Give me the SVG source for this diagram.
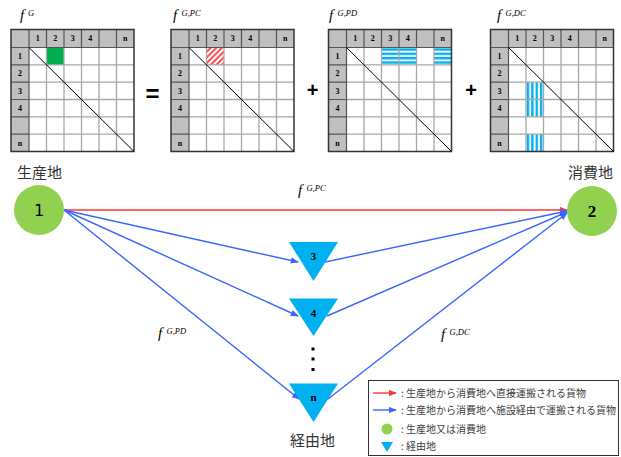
<svg xmlns="http://www.w3.org/2000/svg" xmlns:xlink="http://www.w3.org/1999/xlink" width="621" height="457" viewBox="0 0 621 457">
<style>
.hdr{font-family:"Liberation Serif",serif;font-weight:bold;font-size:8px;text-anchor:middle;fill:#000}
.f{font-family:"Liberation Serif",serif;font-style:italic;font-size:15px}
.sup{font-family:"Liberation Serif",serif;font-style:italic;font-size:8.5px}
.jp{font-family:"Noto Sans CJK JP",sans-serif;font-size:15px;fill:#333}
.lg{font-family:"Noto Sans CJK JP",sans-serif;font-size:10px;fill:#404040}
.tri{fill:#00b0f0}
.node{fill:#92d050}
.tl{font-family:"Liberation Serif",serif;font-weight:bold;font-size:11px;text-anchor:middle}
.red{stroke:#ff3333;stroke-width:1.4;fill:none}
.blue{stroke:#3a66ff;stroke-width:1.4;fill:none}
.op{font-family:"Liberation Sans",sans-serif;font-weight:bold;text-anchor:middle}
</style>
<defs>
<marker id="ar" viewBox="0 0 10 8" refX="9" refY="4" markerWidth="8" markerHeight="6.4" markerUnits="userSpaceOnUse" orient="auto"><path d="M0,0 L10,4 L0,8 z" fill="#ff3333"/></marker>
<marker id="ab" viewBox="0 0 10 8" refX="9" refY="4" markerWidth="8" markerHeight="6.4" markerUnits="userSpaceOnUse" orient="auto"><path d="M0,0 L10,4 L0,8 z" fill="#3a66ff"/></marker>
<pattern id="hatchR" patternUnits="userSpaceOnUse" width="4" height="4" patternTransform="rotate(45)"><rect width="4" height="4" fill="#fff"/><rect width="2" height="4" fill="#ff4d4d"/></pattern>
<pattern id="hatchH" patternUnits="userSpaceOnUse" x="0" y="18" width="4" height="4.333"><rect width="4" height="4.333" fill="#fff"/><rect y="0.8" width="4" height="2.4" fill="#00b0f0"/></pattern>
<pattern id="hatchV" patternUnits="userSpaceOnUse" x="35.5" y="0" width="4.375" height="4"><rect width="4.375" height="4" fill="#fff"/><rect x="0.8" width="2.4" height="4" fill="#00b0f0"/></pattern>
<g id="mtxBg">
<rect x="0" y="0" width="123" height="122" fill="#c0c0c0"/>
<rect x="18" y="18" width="105" height="104" fill="#fff"/>
</g>
<g id="mtxGrid">
<path d="M35.5,18V122M53,18V122M70.5,18V122M88,18V122M105.5,18V122M18,35.33H123M18,52.67H123M18,70H123M18,87.33H123M18,104.67H123" stroke="#a8a8a8" stroke-width="1.3" fill="none"/>
<path d="M35.5,0V18M53,0V18M70.5,0V18M88,0V18M105.5,0V18M0,35.33H18M0,52.67H18M0,70H18M0,87.33H18M0,104.67H18M18,0V122M0,18H123" stroke="#555" stroke-width="1.2" fill="none"/>
<rect x="0" y="0" width="123" height="122" fill="none" stroke="#333" stroke-width="1.5"/>
<line x1="18" y1="18" x2="123" y2="122" stroke="#000" stroke-width="1"/>
<text class="hdr" x="26.75" y="11.8">1</text><text class="hdr" x="44.25" y="11.8">2</text><text class="hdr" x="61.75" y="11.8">3</text><text class="hdr" x="79.25" y="11.8">4</text><text class="hdr" x="114.25" y="11.8">n</text>
<text class="hdr" x="9" y="29.5">1</text><text class="hdr" x="9" y="46.8">2</text><text class="hdr" x="9" y="64.1">3</text><text class="hdr" x="9" y="81.5">4</text><text class="hdr" x="9" y="116.1">n</text>
</g>
</defs>
<rect width="621" height="457" fill="#fff"/>

<g id="matrix-fG" transform="translate(11,29.5)">
<use xlink:href="#mtxBg"/>
<rect x="35.5" y="18" width="17.5" height="17.33" fill="#00b050"/>
<use xlink:href="#mtxGrid"/>
</g>
<g id="label-fG"><text class="f" x="20" y="20">f</text><text class="sup" x="28" y="16">G</text></g>

<g id="matrix-fGPC" transform="translate(171,29.5)">
<use xlink:href="#mtxBg"/>
<rect x="35.5" y="18" width="17.5" height="17.33" fill="url(#hatchR)"/>
<use xlink:href="#mtxGrid"/>
</g>
<g id="label-fGPC"><text class="f" x="173" y="20">f</text><text class="sup" x="181.5" y="16">G,PC</text></g>

<g id="matrix-fGPD" transform="translate(328.5,29.5)">
<use xlink:href="#mtxBg"/>
<rect x="53" y="18" width="35" height="17.33" fill="url(#hatchH)"/>
<rect x="105.5" y="18" width="17.5" height="17.33" fill="url(#hatchH)"/>
<use xlink:href="#mtxGrid"/>
</g>
<g id="label-fGPD"><text class="f" x="329" y="20">f</text><text class="sup" x="337.5" y="16">G,PD</text></g>

<g id="matrix-fGDC" transform="translate(490.5,29.5)">
<use xlink:href="#mtxBg"/>
<rect x="35.5" y="52.67" width="17.5" height="34.67" fill="url(#hatchV)"/>
<rect x="35.5" y="104.67" width="17.5" height="17.33" fill="url(#hatchV)"/>
<use xlink:href="#mtxGrid"/>
</g>
<g id="label-fGDC"><text class="f" x="497" y="20">f</text><text class="sup" x="505.5" y="16">G,DC</text></g>

<g id="operators">
<text class="op" x="152.5" y="102" font-size="24">=</text>
<text class="op" x="312.5" y="97" font-size="20">+</text>
<text class="op" x="471" y="97" font-size="20">+</text>
</g>

<g id="connectors">
<line class="red" x1="64" y1="210" x2="567" y2="210" marker-end="url(#ar)"/>
<line class="blue" x1="64" y1="210" x2="298" y2="262" marker-end="url(#ab)"/>
<line class="blue" x1="64" y1="210" x2="298" y2="316" marker-end="url(#ab)"/>
<line class="blue" x1="64" y1="210" x2="299" y2="399" marker-end="url(#ab)"/>
<line class="blue" x1="325" y1="262" x2="567" y2="211" marker-end="url(#ab)"/>
<line class="blue" x1="327" y1="316" x2="567" y2="212" marker-end="url(#ab)"/>
<line class="blue" x1="328" y1="399" x2="567" y2="213" marker-end="url(#ab)"/>
</g>

<g id="edge-labels">
<text class="f" x="298" y="195">f</text><text class="sup" x="306.5" y="191">G,PC</text>
<text class="f" x="158" y="338">f</text><text class="sup" x="166.5" y="334">G,PD</text>
<text class="f" x="441" y="339">f</text><text class="sup" x="449.5" y="335">G,DC</text>
</g>

<g id="node-1">
<circle class="node" cx="39" cy="210" r="25"/>
<text x="39" y="216" font-family="DejaVu Sans,sans-serif" font-size="16" text-anchor="middle">1</text>
<text class="jp" x="17" y="178">生産地</text>
</g>
<g id="node-2">
<circle class="node" cx="592" cy="211" r="25"/>
<text x="592" y="217" font-family="Liberation Serif,serif" font-weight="bold" font-size="17" text-anchor="middle">2</text>
<text class="jp" x="568" y="178">消費地</text>
</g>
<g id="node-3">
<polygon class="tri" points="289,242 338,242 313.5,281"/>
<text class="tl" x="313.5" y="260">3</text>
</g>
<g id="node-4">
<polygon class="tri" points="289,298.5 338,298.5 313.5,336"/>
<text class="tl" x="313.5" y="317">4</text>
</g>
<g id="dots">
<rect x="311.5" y="347.5" width="3" height="3"/>
<rect x="311.5" y="357.5" width="3" height="3"/>
<rect x="311.5" y="368" width="3" height="3"/>
</g>
<g id="node-n">
<polygon class="tri" points="289,383.5 338,383.5 313.5,422"/>
<text class="tl" x="313.5" y="401">n</text>
<text class="jp" x="290" y="446">経由地</text>
</g>

<g id="legend">
<rect x="368.5" y="380.5" width="250" height="75" fill="#fff" stroke="#333" stroke-width="1"/>
<line class="red" x1="373" y1="393" x2="396" y2="393" stroke-width="1" marker-end="url(#ar)"/>
<text class="lg" x="401" y="396.5">: 生産地から消費地へ直接運搬される貨物</text>
<line class="blue" x1="373" y1="410" x2="396" y2="410" stroke-width="1" marker-end="url(#ab)"/>
<text class="lg" x="401" y="413.5">: 生産地から消費地へ施設経由で運搬される貨物</text>
<circle class="node" cx="387" cy="429" r="5.5"/>
<text class="lg" x="401" y="432.5">: 生産地又は消費地</text>
<polygon class="tri" points="381,442 393,442 387,452"/>
<text class="lg" x="401" y="450">: 経由地</text>
</g>
</svg>
